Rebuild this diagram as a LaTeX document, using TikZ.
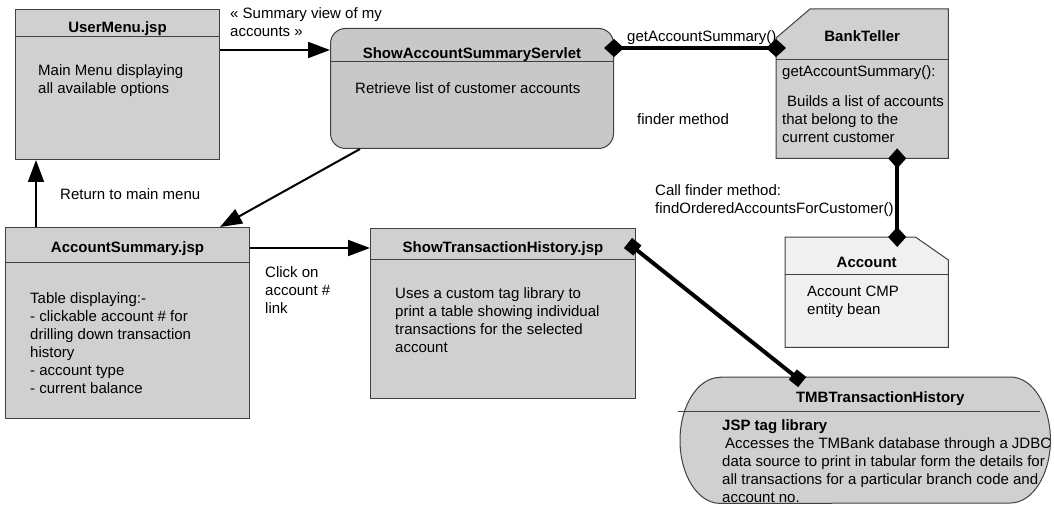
\documentclass[tikz,border=0pt]{standalone}
\usepackage{fontspec}
\setmainfont{Liberation Sans}
\usetikzlibrary{arrows.meta}
\definecolor{boxgray}{HTML}{D0D0D0}
\definecolor{servgray}{HTML}{C8C8C8}
\definecolor{beangray}{HTML}{F0F0F0}
\definecolor{edgegray}{HTML}{404040}
\begin{document}
\begin{tikzpicture}[x=1pt, y=-1pt,
    font=\fontsize{15}{18}\selectfont,
    box/.style={draw=edgegray, line width=1pt, fill=boxgray, anchor=north west, inner sep=0pt},
    area/.style={anchor=north west, inner sep=0pt},
    outline/.style={draw=edgegray, line width=1pt, fill=boxgray},
    sepline/.style={draw=edgegray, line width=0.8pt},
    ttl/.style={font=\fontsize{15}{18}\selectfont\bfseries, anchor=base, inner sep=0pt},
    txt/.style={align=left, anchor=north west, inner sep=0pt},
    lbl/.style={anchor=base west, inner sep=0pt},
    flow/.style={line width=2pt, -{Triangle[length=22pt,width=16pt]}},
    assoc/.style={line width=4pt, {Diamond[length=20pt,width=18pt]}-{Diamond[length=20pt,width=18pt]},
                  shorten <=-10pt, shorten >=-10pt},
    tagline/.style={line width=4pt, {Square[length=12pt,width=13pt]}-{Square[length=12pt,width=13pt]}}]
    \useasboundingbox (0,0) rectangle (1054,505);

    % boxes
    \node[box, minimum width=204pt, minimum height=150pt] (usermenu) at (15,9) {};
    \node[box, fill=servgray, rounded corners=15pt, minimum width=283pt, minimum height=120pt] (servlet) at (330,28) {};
    \node[area, minimum width=172pt, minimum height=149pt] (teller) at (776,9) {};
    \node[area, minimum width=163pt, minimum height=110pt] (account) at (785,237) {};
    \node[box, minimum width=244pt, minimum height=191pt] (acctsum) at (5,227) {};
    \node[box, minimum width=265pt, minimum height=170pt] (history) at (370,228) {};
    \node[area, minimum width=370pt, minimum height=126pt] (taglib) at (680,377) {};

    \draw[outline] ([yshift=-29pt]teller.north west) -- ([xshift=34pt]teller.north west) -- (teller.north east)
        -- (teller.south east) -- (teller.south west) -- cycle;
    \draw[outline, fill=beangray] (account.north west) -- ([xshift=-33pt]account.north east)
        -- ([yshift=-23pt]account.north east) -- (account.south east) -- (account.south west) -- cycle;
    \draw[outline] ([xshift=40pt]taglib.north west) -- ([xshift=-40pt]taglib.north east)
        arc[start angle=90, end angle=-90, x radius=40pt, y radius=63pt]
        -- ([xshift=40pt]taglib.south west)
        arc[start angle=270, end angle=90, x radius=40pt, y radius=63pt] -- cycle;

    % title compartments
    \foreach \n/\d in {usermenu/27pt, servlet/33pt, teller/50pt, account/37pt, acctsum/35pt, history/31pt}
        \draw[sepline] ([yshift=-\d]\n.north west) -- ([yshift=-\d]\n.north east);
    \draw[sepline] ([xshift=-2pt,yshift=-34pt]taglib.north west) -- ([xshift=-10pt,yshift=-34pt]taglib.north east);

    \node[ttl] (usermenu-t) at ([yshift=-24pt]usermenu.north) {UserMenu.jsp};
    \node[ttl] (servlet-t) at ([yshift=-31pt]servlet.north) {ShowAccountSummaryServlet};
    \node[ttl] (teller-t) at ([yshift=-33pt]teller.north) {BankTeller};
    \node[ttl] (account-t) at ([yshift=-30pt]account.north) {Account};
    \node[ttl] (acctsum-t) at ([yshift=-25pt]acctsum.north) {AccountSummary.jsp};
    \node[ttl] (history-t) at ([yshift=-24pt]history.north) {ShowTransactionHistory.jsp};
    \node[ttl] (taglib-t) at ([xshift=15pt,yshift=-25pt]taglib.north) {TMBTransactionHistory};

    % body texts
    \node[txt] (usermenu-b) at ([xshift=23pt,yshift=-55pt]usermenu.north west) {Main Menu displaying\\all available options};
    \node[txt] (servlet-b) at ([xshift=25pt,yshift=-54pt]servlet.north west) {Retrieve list of customer accounts};
    \node[txt] (teller-b) at ([xshift=6pt,yshift=-56pt]teller.north west)
        {getAccountSummary():\\[12pt]\hspace{5pt}Builds a list of accounts\\that belong to the\\current customer};
    \node[txt] (account-b) at ([xshift=22pt,yshift=-49pt]account.north west) {Account CMP\\entity bean};
    \node[txt] (acctsum-b) at ([xshift=25pt,yshift=-65pt]acctsum.north west)
        {Table displaying:-\\- clickable account \# for\\drilling down transaction\\history\\- account type\\- current balance};
    \node[txt] (history-b) at ([xshift=25pt,yshift=-59pt]history.north west)
        {Uses a custom tag library to\\print a table showing individual\\transactions for the selected\\account};
    \node[txt] (taglib-b) at ([xshift=42pt,yshift=-42pt]taglib.north west)
        {{\bfseries JSP tag library}\\\hspace{3pt}Accesses the TMBank database through a JDBC\\data source to print in tabular form the details for\\all transactions for a particular branch code and\\account no.};

    % connectors
    \coordinate (menuport) at ([yshift=-41pt]usermenu.north east);
    \draw[flow] (menuport) -- (menuport -| servlet.west);
    \coordinate (servport) at ([yshift=-20pt]servlet.north east);
    \draw[assoc] (servport) -- (servport -| teller.west);
    \coordinate (tellerport) at ([xshift=35pt]teller.south);
    \draw[assoc] (tellerport) -- (tellerport |- account.north);
    \draw[flow] ([xshift=30pt]servlet.south west) -- ([xshift=-30pt]acctsum.north east);
    \coordinate (sumport) at ([yshift=-21pt]acctsum.north east);
    \draw[flow] (sumport) -- (sumport -| history.west);
    \coordinate (backport) at ([xshift=31pt]acctsum.north west);
    \draw[flow] (backport) -- (backport |- usermenu.south);
    \draw[tagline] ([xshift=-8pt,yshift=-15pt]history.north east) -- ([xshift=-63pt,yshift=-5pt]taglib.north);

    % connector labels
    \node[txt] (sumlbl) at (230,7) {« Summary view of my\\accounts »};
    \node[lbl] (getlbl) at (627,42) {getAccountSummary()};
    \node[lbl] (finderlbl) at (637,125) {finder method};
    \node[txt] (calllbl) at (655,184) {Call finder method:\\findOrderedAccountsForCustomer()};
    \node[lbl] (backlbl) at (60,200) {Return to main menu};
    \node[txt] (clicklbl) at (265,266) {Click on\\account \#\\link};
\end{tikzpicture}
\end{document}
